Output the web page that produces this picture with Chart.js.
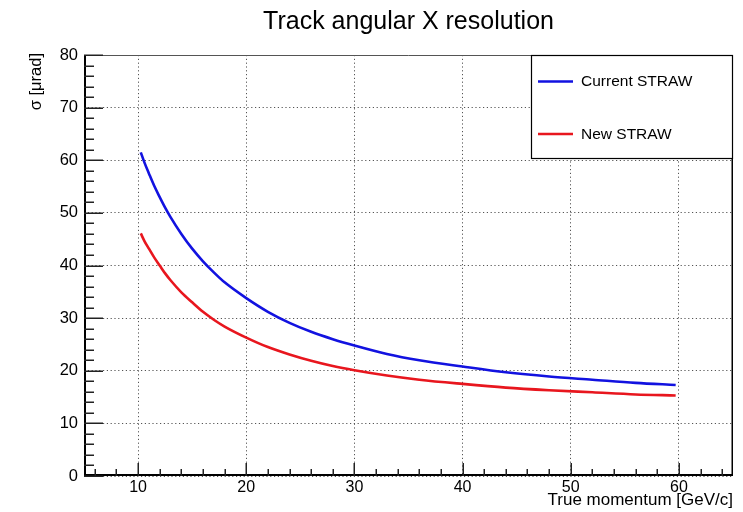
<!DOCTYPE html>
<html><head><meta charset="utf-8">
<script src="https://cdn.jsdelivr.net/npm/chart.js@4/dist/chart.umd.min.js"></script>
<style>html,body{margin:0;padding:0;background:#fff}</style>
</head><body>
<canvas id="c" width="743" height="512"></canvas>
<script>
// ---- data ----
const momentum     = [10.25, 10.6, 11, 11.5, 12, 12.5, 13, 14, 15, 16, 17, 18, 20, 22, 24, 26, 28, 30, 33, 36, 40, 44, 48, 52, 56, 59.7];
const currentStraw = [61.5, 59.5, 57.5, 55.1, 53.0, 51.0, 49.2, 46.0, 43.2, 40.8, 38.7, 36.8, 33.8, 31.2, 29.1, 27.4, 26.0, 24.8, 23.2, 22.0, 20.8, 19.7, 18.9, 18.3, 17.7, 17.3];
const newStraw     = [46.1, 44.6, 43.2, 41.5, 40.0, 38.5, 37.2, 34.9, 33.0, 31.2, 29.7, 28.4, 26.3, 24.5, 23.1, 21.9, 20.9, 20.1, 19.1, 18.3, 17.5, 16.8, 16.3, 15.9, 15.5, 15.3];
const xTickValues  = [10, 20, 30, 40, 50, 60];
const yTickValues  = [0, 10, 20, 30, 40, 50, 60, 70, 80];
const seriesNames  = ["Current STRAW", "New STRAW"];
const seriesColors = ["#1212e0", "#e8161e"];
const chartTitle   = "Track angular X resolution";
const xTitle       = "True momentum [GeV/c]";
const yTitle       = "σ [μrad]";

const FONT = "'Liberation Sans', Arial, Helvetica, sans-serif";

function pts(xs, ys){ return xs.map((x,i)=>({x:x, y:ys[i]})); }

const rootPlugin = {
  id: 'rootStyle',
  afterDraw(chart){
    const ctx = chart.ctx, a = chart.chartArea;
    const xs = chart.scales.x, ys = chart.scales.y;
    ctx.save();
    // frame
    ctx.strokeStyle = '#555'; ctx.lineWidth = 1;
    ctx.beginPath(); ctx.moveTo(a.left, a.top+0.5); ctx.lineTo(a.right, a.top+0.5); ctx.stroke();
    ctx.strokeStyle = '#000'; ctx.lineWidth = 1.5;
    ctx.beginPath(); ctx.moveTo(a.right-0.75, a.top); ctx.lineTo(a.right-0.75, a.bottom); ctx.stroke();
    ctx.lineWidth = 2;
    ctx.beginPath(); ctx.moveTo(a.left+1, a.top); ctx.lineTo(a.left+1, a.bottom-1); ctx.lineTo(a.right, a.bottom-1); ctx.stroke();
    // ticks
    ctx.strokeStyle = '#222'; ctx.lineWidth = 1.5;
    for (let v = ys.min; v <= ys.max; v += 2){
      const y = Math.round(ys.getPixelForValue(v)) + 0.25;
      const len = (v % 10 === 0) ? 19 : 10;
      ctx.beginPath(); ctx.moveTo(a.left, y); ctx.lineTo(a.left+len, y); ctx.stroke();
    }
    for (let v = 6; v < xs.max; v += 2){
      const x = Math.round(xs.getPixelForValue(v)) + 0.25;
      const len = (v % 10 === 0) ? 13 : 7;
      ctx.beginPath(); ctx.moveTo(x, a.bottom); ctx.lineTo(x, a.bottom-len); ctx.stroke();
    }
    // titles
    ctx.fillStyle = '#000';
    ctx.font = '25px ' + FONT; ctx.textAlign = 'center'; ctx.textBaseline = 'alphabetic';
    ctx.fillText(chartTitle, (a.left+a.right)/2, 29);
    ctx.font = '17px ' + FONT; ctx.textAlign = 'right';
    ctx.fillText(xTitle, a.right, 505);
    ctx.save();
    ctx.translate(41, a.top - 2); ctx.rotate(-Math.PI/2);
    ctx.textAlign = 'right'; ctx.font = '16.5px ' + FONT;
    ctx.fillText(yTitle, 0, 0);
    ctx.restore();
    // legend
    const lw = 202, lh = 104;
    const lx = a.right - lw, ly = a.top;
    ctx.fillStyle = '#fff'; ctx.fillRect(lx, ly, lw, lh);
    ctx.strokeStyle = '#000'; ctx.lineWidth = 1.2;
    ctx.strokeRect(lx+0.5, ly+0.5, lw-1, lh-1);
    ctx.font = '15.5px ' + FONT; ctx.textAlign = 'left'; ctx.textBaseline = 'middle';
    chart.data.datasets.forEach((ds, i) => {
      const yy = ly + 26.5 + i*52.5;
      ctx.strokeStyle = ds.borderColor; ctx.lineWidth = 2.5;
      ctx.beginPath(); ctx.moveTo(lx+7, yy); ctx.lineTo(lx+42, yy); ctx.stroke();
      ctx.fillStyle = '#000';
      ctx.fillText(ds.label, lx+50, yy+0.5);
    });
    ctx.restore();
  }
};

const gridOpts = { color: '#555', lineWidth: 1, drawTicks: false };
const borderOpts = { display: false, dash: [1.2, 2.6] };

new Chart(document.getElementById('c'), {
  type: 'scatter',
  data: {
    datasets: [
      { label: seriesNames[0], data: pts(momentum, currentStraw), borderColor: seriesColors[0], backgroundColor: seriesColors[0],
        showLine: true, pointRadius: 0, borderWidth: 2.6, cubicInterpolationMode: 'monotone', fill: false },
      { label: seriesNames[1], data: pts(momentum, newStraw), borderColor: seriesColors[1], backgroundColor: seriesColors[1],
        showLine: true, pointRadius: 0, borderWidth: 2.6, cubicInterpolationMode: 'monotone', fill: false }
    ]
  },
  options: {
    responsive: false, animation: false, devicePixelRatio: 1,
    layout: { padding: { top: 55, right: 10, left: 0, bottom: 0 } },
    plugins: { legend: { display: false }, title: { display: false }, tooltip: { enabled: false } },
    scales: {
      x: {
        type: 'linear', min: 5, max: 65,
        afterFit(s){ s.height = 36; },
        afterBuildTicks(s){ s.ticks = xTickValues.map(v => ({value: v})); },
        grid: gridOpts,
        border: borderOpts,
        ticks: { padding: 2, color: '#000', font: { family: FONT, size: 16 }, maxRotation: 0, autoSkip: false }
      },
      y: {
        type: 'linear', min: 0, max: 80,
        afterFit(s){ s.width = 84; },
        afterBuildTicks(s){ s.ticks = yTickValues.map(v => ({value: v})); },
        grid: gridOpts,
        border: borderOpts,
        ticks: { padding: 6, color: '#000', font: { family: FONT, size: 16.5 }, autoSkip: false }
      }
    }
  },
  plugins: [rootPlugin]
});
</script>
</body></html>
